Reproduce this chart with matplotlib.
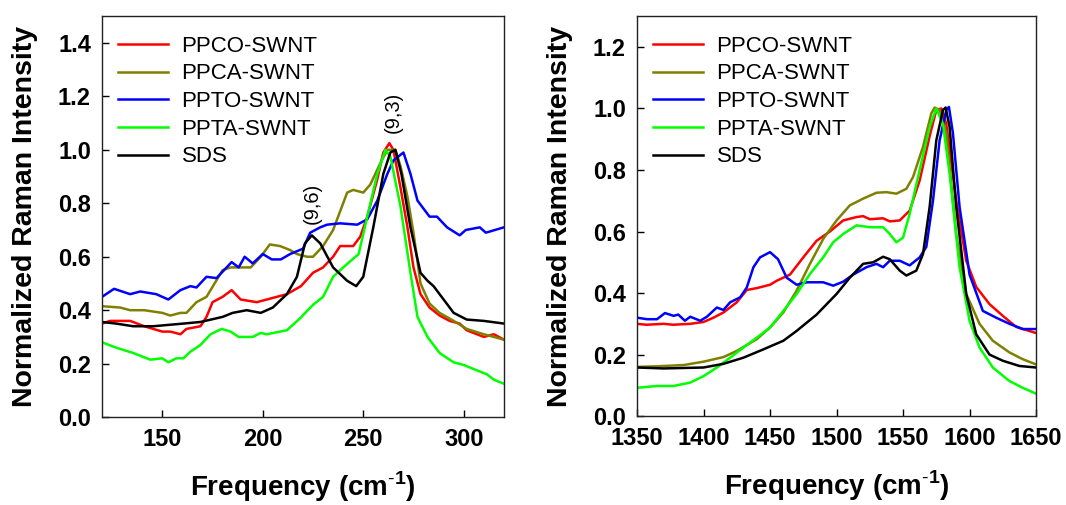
import numpy as np
import matplotlib
matplotlib.use("Agg")
import matplotlib.pyplot as plt

plt.rcParams["font.family"] = ["Liberation Sans", "DejaVu Sans"]
plt.rcParams["mathtext.fontset"] = "custom"
plt.rcParams["mathtext.rm"] = "Liberation Sans"
plt.rcParams["mathtext.bf"] = "Liberation Sans:bold"

labels = ["PPCO-SWNT", "PPCA-SWNT", "PPTO-SWNT", "PPTA-SWNT", "SDS"]
colors = ["#FF0000", "#808000", "#0000FF", "#00FF00", "#000000"]

# ---- RBM region (left panel) ----
rbm_ppco_x = [120, 124, 134, 141, 150, 154, 159, 162, 169, 172, 175, 180, 184.5, 189,
              197, 202, 207, 212, 219, 225, 230, 235, 238.5, 245, 248.5, 252, 257, 260,
              263, 265, 268.5, 272, 275, 278.5, 283, 288, 293, 298, 301.5, 310, 315, 320]
rbm_ppco_y = [0.35, 0.36, 0.36, 0.34, 0.32, 0.32, 0.31, 0.33, 0.34, 0.375, 0.43, 0.45, 0.475, 0.44,
              0.43, 0.44, 0.45, 0.46, 0.49, 0.54, 0.56, 0.60, 0.64, 0.64, 0.675, 0.75, 0.89, 0.99,
              1.025, 1.0, 0.86, 0.71, 0.56, 0.46, 0.41, 0.38, 0.36, 0.35, 0.325, 0.30, 0.31, 0.29]

rbm_ppca_x = [120, 129, 134, 141, 150, 154, 159, 162, 167, 172, 176, 180, 184, 189, 194,
              199, 203.5, 208.6, 213.6, 217, 222, 225, 230, 235, 242, 245, 250, 253.5,
              258.5, 262, 266, 268.5, 272, 275, 278.5, 283, 288, 295, 301.5, 310, 320]
rbm_ppca_y = [0.415, 0.41, 0.40, 0.40, 0.39, 0.38, 0.39, 0.39, 0.43, 0.45, 0.50, 0.55, 0.56, 0.56, 0.56,
              0.60, 0.646, 0.64, 0.625, 0.61, 0.60, 0.60, 0.64, 0.70, 0.84, 0.85, 0.84, 0.87,
              0.95, 1.0, 1.0, 0.94, 0.825, 0.69, 0.50, 0.425, 0.39, 0.36, 0.33, 0.31, 0.29]

rbm_ppto_x = [120, 126, 134, 139, 147, 153, 159, 164, 167, 172, 177, 184.5, 188, 191, 195,
              200, 204.5, 209, 213.6, 220, 223.6, 228.6, 232, 238.5, 247, 252, 257, 262,
              265, 270, 273.5, 277, 283, 286.7, 291.7, 298, 301, 308, 311, 320]
rbm_ppto_y = [0.45, 0.48, 0.46, 0.47, 0.46, 0.44, 0.475, 0.49, 0.485, 0.525, 0.52, 0.58, 0.56, 0.60, 0.575,
              0.61, 0.59, 0.59, 0.61, 0.63, 0.69, 0.71, 0.72, 0.725, 0.72, 0.74, 0.81, 0.91,
              0.96, 0.99, 0.91, 0.81, 0.75, 0.75, 0.71, 0.68, 0.70, 0.71, 0.69, 0.71]

rbm_ppta_x = [120, 127, 135.5, 144, 150, 153, 157, 160.5, 164, 169, 174, 179.5, 184, 188,
              195, 199, 202, 212, 218.6, 225, 230, 235, 240, 247.7, 252, 257, 261, 263.5,
              268.5, 273.5, 277, 282, 288, 295, 300, 306.6, 311.6, 315, 320]
rbm_ppta_y = [0.28, 0.26, 0.24, 0.215, 0.22, 0.205, 0.22, 0.22, 0.245, 0.27, 0.31, 0.33, 0.32, 0.30,
              0.30, 0.315, 0.31, 0.325, 0.37, 0.42, 0.45, 0.525, 0.56, 0.61, 0.75, 0.91, 1.0, 0.975,
              0.79, 0.54, 0.375, 0.30, 0.24, 0.205, 0.195, 0.175, 0.16, 0.14, 0.125]

rbm_sds_x = [120, 127, 135.5, 145.5, 160.5, 169, 180, 185, 192, 199, 205, 212, 217, 221,
             224.4, 228.6, 235, 242, 246.5, 250, 255, 260, 263.5, 266, 269, 273.5, 278.5,
             282, 285, 290, 295, 301.5, 310, 320]
rbm_sds_y = [0.356, 0.35, 0.34, 0.34, 0.35, 0.356, 0.375, 0.39, 0.40, 0.39, 0.41, 0.46, 0.525, 0.65,
             0.68, 0.65, 0.56, 0.51, 0.49, 0.525, 0.71, 0.91, 0.99, 1.0, 0.91, 0.71, 0.54,
             0.51, 0.49, 0.44, 0.39, 0.365, 0.36, 0.35]

# ---- G band region (right panel) ----
g_ppco_x = [1350, 1357, 1370, 1377, 1390, 1400, 1407.5, 1415, 1425, 1432.5, 1440, 1450, 1455,
            1465, 1475, 1485, 1495, 1505, 1515, 1520, 1525, 1535, 1540, 1547.5, 1555, 1562.5,
            1570, 1575, 1578.75, 1582.5, 1590, 1597.5, 1605, 1615, 1625, 1635, 1650]
g_ppco_y = [0.30, 0.297, 0.30, 0.297, 0.30, 0.306, 0.32, 0.337, 0.37, 0.41, 0.416, 0.427, 0.44,
            0.46, 0.516, 0.57, 0.60, 0.636, 0.647, 0.65, 0.64, 0.643, 0.633, 0.636, 0.668, 0.766,
            0.91, 0.995, 1.0, 0.95, 0.70, 0.505, 0.42, 0.364, 0.326, 0.29, 0.27]

g_ppca_x = [1350, 1365, 1385, 1400, 1415, 1425, 1440, 1450, 1460, 1470, 1480, 1490, 1500,
            1510, 1520, 1530, 1537.5, 1545, 1552.5, 1557.5, 1565, 1571.25, 1573.75, 1577.5,
            1582.5, 1590, 1597.5, 1607.5, 1617.5, 1630, 1640, 1650]
g_ppca_y = [0.16, 0.162, 0.166, 0.177, 0.192, 0.212, 0.25, 0.288, 0.337, 0.408, 0.495, 0.576, 0.636,
            0.685, 0.707, 0.726, 0.728, 0.723, 0.739, 0.777, 0.875, 0.984, 1.003, 0.995,
            0.92, 0.59, 0.397, 0.30, 0.245, 0.207, 0.185, 0.168]

g_ppto_x = [1350, 1357.5, 1365, 1371, 1377.5, 1381, 1386, 1390, 1397.5, 1402.5, 1410, 1415,
            1420, 1427.5, 1432.5, 1437.5, 1442.5, 1450, 1456, 1462.5, 1470, 1477.5, 1490,
            1497.5, 1505, 1512.5, 1522.5, 1530, 1535, 1540, 1547.5, 1555, 1562.5, 1567.5,
            1572.5, 1577.5, 1582.5, 1584.5, 1587.5, 1592.5, 1600, 1610, 1620, 1630, 1640, 1650]
g_ppto_y = [0.32, 0.315, 0.315, 0.335, 0.326, 0.33, 0.31, 0.323, 0.31, 0.323, 0.353, 0.345,
            0.37, 0.386, 0.418, 0.484, 0.516, 0.533, 0.51, 0.45, 0.427, 0.435, 0.435,
            0.424, 0.437, 0.46, 0.484, 0.495, 0.484, 0.505, 0.505, 0.49, 0.516, 0.55,
            0.70, 0.896, 0.995, 1.005, 0.92, 0.68, 0.46, 0.342, 0.32, 0.30, 0.283, 0.283]

g_ppta_x = [1350, 1365, 1377.5, 1390, 1400, 1410, 1420, 1430, 1440, 1450, 1460, 1470, 1480,
            1490, 1497.5, 1505, 1515, 1525, 1535, 1540, 1545, 1550, 1555, 1562.5, 1570, 1575,
            1580, 1585, 1592.5, 1600, 1607.5, 1617.5, 1630, 1640, 1650]
g_ppta_y = [0.092, 0.098, 0.098, 0.109, 0.13, 0.158, 0.19, 0.223, 0.255, 0.288, 0.342, 0.397, 0.462,
            0.516, 0.565, 0.592, 0.62, 0.614, 0.614, 0.592, 0.565, 0.58, 0.658, 0.80, 0.94, 1.0,
            0.95, 0.788, 0.484, 0.31, 0.223, 0.158, 0.114, 0.092, 0.073]

g_sds_x = [1350, 1370, 1400, 1415, 1430, 1445, 1460, 1470, 1485, 1500, 1510, 1520, 1527.5,
           1535, 1540, 1547.5, 1552.5, 1560, 1565, 1570, 1575, 1580, 1582, 1585, 1590, 1597.5,
           1605, 1615, 1625, 1637.5, 1650]
g_sds_y = [0.158, 0.155, 0.158, 0.17, 0.19, 0.217, 0.245, 0.277, 0.33, 0.397, 0.45, 0.495, 0.50,
           0.518, 0.51, 0.473, 0.457, 0.473, 0.527, 0.68, 0.896, 0.995, 1.003, 0.94, 0.68, 0.397,
           0.266, 0.20, 0.18, 0.163, 0.158]

rbm = [(rbm_ppco_x, rbm_ppco_y), (rbm_ppca_x, rbm_ppca_y), (rbm_ppto_x, rbm_ppto_y),
       (rbm_ppta_x, rbm_ppta_y), (rbm_sds_x, rbm_sds_y)]
gband = [(g_ppco_x, g_ppco_y), (g_ppca_x, g_ppca_y), (g_ppto_x, g_ppto_y),
         (g_ppta_x, g_ppta_y), (g_sds_x, g_sds_y)]

fig = plt.figure(figsize=(10.66, 5.05), dpi=100)
ax1 = fig.add_axes([0.0957, 0.174, 0.377, 0.794])
ax2 = fig.add_axes([0.5976, 0.176, 0.3743, 0.792])


def style_axis(ax, data, xlim, ylim, xticks, yticks):
    for (x, y), c, lab in zip(data, colors, labels):
        ax.plot(x, y, color=c, lw=1.8, label=lab)
    ax.set_xlim(*xlim)
    ax.set_ylim(*ylim)
    ax.set_xticks(xticks)
    ax.set_yticks(yticks)
    ax.set_yticklabels([f"{v:.1f}" for v in yticks])
    ax.tick_params(direction="in", length=5, width=1, labelsize=17, pad=8)
    for lbl in ax.get_xticklabels() + ax.get_yticklabels():
        lbl.set_fontweight("bold")
    for sp in ax.spines.values():
        sp.set_linewidth(1)
        sp.set_color("#222222")
    ax.set_xlabel("Frequency (cm$^{\\mathbf{\\text{-}1}}$)", fontsize=20, fontweight="bold",
                  labelpad=13)
    ax.set_ylabel("Normalized Raman Intensity", fontsize=20.5, fontweight="bold", labelpad=14)
    ax.legend(loc="upper left", bbox_to_anchor=(0.0, 0.99), frameon=False, fontsize=16,
              handlelength=2.25, handletextpad=0.63, labelspacing=0.3, borderaxespad=0.3)


style_axis(ax1, rbm, (120, 320), (0, 1.5), [150, 200, 250, 300],
           [0.0, 0.2, 0.4, 0.6, 0.8, 1.0, 1.2, 1.4])
style_axis(ax2, gband, (1350, 1650), (0, 1.3), [1350, 1400, 1450, 1500, 1550, 1600, 1650],
           [0.0, 0.2, 0.4, 0.6, 0.8, 1.0, 1.2])

ax1.text(224.4, 0.80, "(9,6)", rotation=90, ha="center", va="center", fontsize=14.5)
ax1.text(265, 1.14, "(9,3)", rotation=90, ha="center", va="center", fontsize=14.5)

fig.savefig("out.png", dpi=100)
